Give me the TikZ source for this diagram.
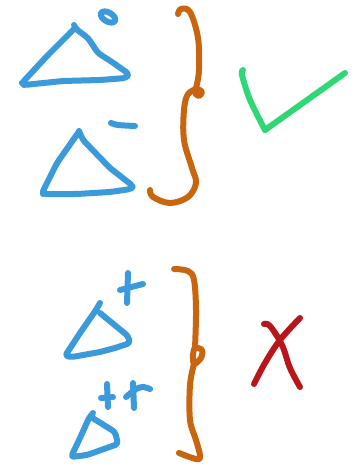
\documentclass[tikz,border=0pt]{standalone}
\usepackage{tikz}
\definecolor{inkblue}{HTML}{3A9ADA}
\definecolor{inkorange}{HTML}{C9650F}
\definecolor{inkgreen}{HTML}{2FD877}
\definecolor{inkred}{HTML}{B8161B}

\begin{document}
\begin{tikzpicture}[x=1pt, y=-1pt,
    pen/.style={line width=6pt, line cap=round, line join=round},
    blueink/.style={pen, inkblue},
    orangeink/.style={pen, inkorange},
    greenink/.style={pen, inkgreen},
    redink/.style={pen, inkred}]
    % Canvas
    \useasboundingbox (0,0) rectangle (354,465);

    % Triangle with o
    \draw[blueink, rounded corners=3pt] (74,25) -- (76,29) -- (88,38) -- (98,53) -- (112,62) -- (129,74) -- (126,78) -- (100,80) -- (63,81) -- (24,85) -- (22,83) -- (47,56) -- (74,29);
    \draw[blueink, rotate around={-30:(108,17)}] (108,17) ellipse (8 and 4.5);

    % Triangle with -
    \draw[blueink, rounded corners=3pt] (79,131) -- (83,140) -- (110,168) -- (133,186) -- (131,189) -- (110,192) -- (77,194) -- (43,194) -- (43,191) -- (57,163) -- (78,133);
    \draw[blueink] plot[smooth] coordinates {(111,123) (118,125) (135,126)};

    % Brace (upper)
    \draw[orangeink] plot[smooth, tension=0.6] coordinates {(178,14) (181,9) (190,12) (198,38) (199,70) (196,88)};
    \draw[orangeink] plot[smooth cycle] coordinates {(197,89) (202,92) (199,96) (195,93)};
    \draw[orangeink] plot[smooth, tension=0.6] coordinates {(197,89) (188,94) (184,110) (184,140) (192,168) (196,183) (188,197) (170,203) (153,197) (150,190)};

    % Check mark
    \draw[greenink] plot[smooth, tension=0.5] coordinates {(243,70) (242,75) (250,100) (265,130)};
    \draw[greenink] (265,130) -- (345,73);

    % Triangle with +
    \draw[blueink, rounded corners=3pt] (100,303) -- (96,310) -- (80,333) -- (65,356) -- (72,357) -- (100,352) -- (115,348) -- (130,343) -- (128,336) -- (100,313);
    \draw[blueink] (128,273) -- (127,303);
    \draw[blueink] (120,290) -- (143,284);

    % Triangle with ++
    \draw[blueink, rounded corners=3pt] (93,413) -- (89,418) -- (80,438) -- (71,457) -- (87,455) -- (118,444) -- (115,432) -- (91,417);
    \draw[blueink] (107,384) -- (108,407);
    \draw[blueink] (101,398) -- (113,397);
    \draw[blueink] (133,383) -- (134,408);
    \draw[blueink] plot[smooth] coordinates {(126,397) (136,389) (143,387) (150,389)};

    % Brace (lower)
    \draw[orangeink] plot[smooth, tension=0.6] coordinates {(174,269) (188,271) (194,280) (196,310) (195,348)};
    \draw[orangeink] plot[smooth cycle] coordinates {(195,348) (202,350) (201,358) (194,364) (193,355)};
    \draw[orangeink] plot[smooth, tension=0.6] coordinates {(194,364) (190,385) (190,420) (196,440) (200,456) (196,459) (179,453)};

    % Cross
    \draw[redink] plot[smooth, tension=0.6] coordinates {(264,324) (270,326) (282,345) (290,368) (300,387)};
    \draw[redink] plot[smooth, tension=0.6] coordinates {(300,318) (280,340) (265,363) (254,384)};
\end{tikzpicture}
\end{document}
